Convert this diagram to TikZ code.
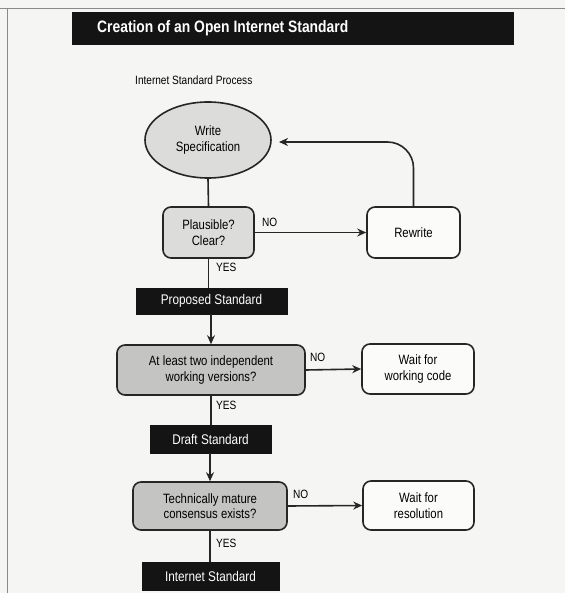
\documentclass[tikz,border=0pt]{standalone}
\usepackage{fontspec}
\setmainfont{Liberation Sans}[FakeStretch=0.84]
\usetikzlibrary{arrows.meta,shapes.geometric}
\definecolor{paper}{HTML}{F5F5F3}
\definecolor{lightfill}{HTML}{DCDCDA}
\definecolor{midfill}{HTML}{C4C4C2}
\definecolor{framegray}{HTML}{8A8A8A}
\tikzset{
  x=1pt, y=-1pt,
  flow/.style={line width=1.6pt, draw=black!85},
  arr/.style={flow, -{Stealth[length=9pt,width=8pt]}},
  box/.style={draw=black!85, line width=1.6pt, rounded corners=8pt, align=center,
    font=\fontsize{13.5}{15.5}\selectfont, inner sep=0pt},
  blackbar/.style={fill=black!92, draw=black!92, text=white, inner sep=0pt,
    font=\fontsize{14}{15}\selectfont},
  lbl/.style={font=\fontsize{12}{13}\selectfont, inner sep=0pt},
}
\begin{document}
\begin{tikzpicture}
\useasboundingbox (0,0) rectangle (565,593);
\fill[paper] (0,0) rectangle (565,593);
% page frame
\draw[framegray, line width=0.8pt] (0,8) -- (565,8);
\draw[framegray, line width=0.8pt] (7,8) -- (7,593);

% title bar
\node[blackbar, minimum width=441pt, minimum height=32pt, anchor=north west] (title) at (72,12) {};
\node[text=white, font=\fontsize{16.5}{18}\bfseries\selectfont, anchor=west, inner sep=0pt] (titletext) at (97,28) {Creation of an Open Internet Standard};

\node[lbl, anchor=west, font=\fontsize{12}{13}\selectfont] (subtitle) at (135,80) {Internet Standard Process};

% write specification
\node[ellipse, draw=black!85, line width=1.6pt, fill=lightfill, minimum width=126pt, minimum height=76pt,
  align=center, font=\fontsize{13.5}{16.5}\selectfont, inner sep=0pt] (spec) at (208,140) {Write\\Specification};

% plausible check and rewrite
\node[box, fill=lightfill, minimum width=91pt, minimum height=51pt] (plaus) at (208.5,232.5) {Plausible?\\Clear?};
\node[box, fill=white!60!paper, minimum width=93pt, minimum height=51pt] (rewrite) at (413.5,232.5) {Rewrite};

% proposed standard
\node[blackbar, minimum width=151pt, minimum height=26pt] (proposed) at (211.5,301) {Proposed Standard};

% working versions check
\node[box, fill=midfill, minimum width=188pt, minimum height=50pt] (working) at (211,370) {At least two independent\\working versions?};
\node[box, fill=white!60!paper, minimum width=112pt, minimum height=50pt] (waitcode) at (418,369) {Wait for\\working code};

% draft standard
\node[blackbar, minimum width=121pt, minimum height=28pt] (draft) at (210.5,439) {Draft Standard};

% maturity check
\node[box, fill=midfill, minimum width=154pt, minimum height=48pt] (mature) at (210,506) {Technically mature\\consensus exists?};
\node[box, fill=white!60!paper, minimum width=111pt, minimum height=49pt] (waitres) at (418.5,505.5) {Wait for\\resolution};

% internet standard
\node[blackbar, minimum width=137pt, minimum height=28pt] (internet) at (210.5,576) {Internet Standard};

% connectors
\draw[flow] (spec.south) -- (plaus.north);
\draw[arr] (plaus.east) -- (rewrite.west);
\draw[arr, rounded corners=26pt] (rewrite.north) |- (279,142);
\draw[flow] (plaus.south) -- (plaus.south |- proposed.north);
\draw[arr] (proposed.south -| working.north) -- (working.north);
\draw[arr] (working.east) -- (waitcode.west);
\draw[flow] (working.south) -- (working.south |- draft.north);
\draw[arr] (draft.south -| mature.north) -- (mature.north);
\draw[arr] (mature.east) -- (waitres.west);
\draw[flow] (mature.south) -- (mature.south |- internet.north);

% branch labels
\node[lbl, anchor=west] (no1) at (262,222) {NO};
\node[lbl, anchor=west] (yes1) at (216,267) {YES};
\node[lbl, anchor=west] (no2) at (310,357) {NO};
\node[lbl, anchor=west] (yes2) at (216,405) {YES};
\node[lbl, anchor=west] (no3) at (293,494) {NO};
\node[lbl, anchor=west] (yes3) at (216,543) {YES};
\end{tikzpicture}
\end{document}
